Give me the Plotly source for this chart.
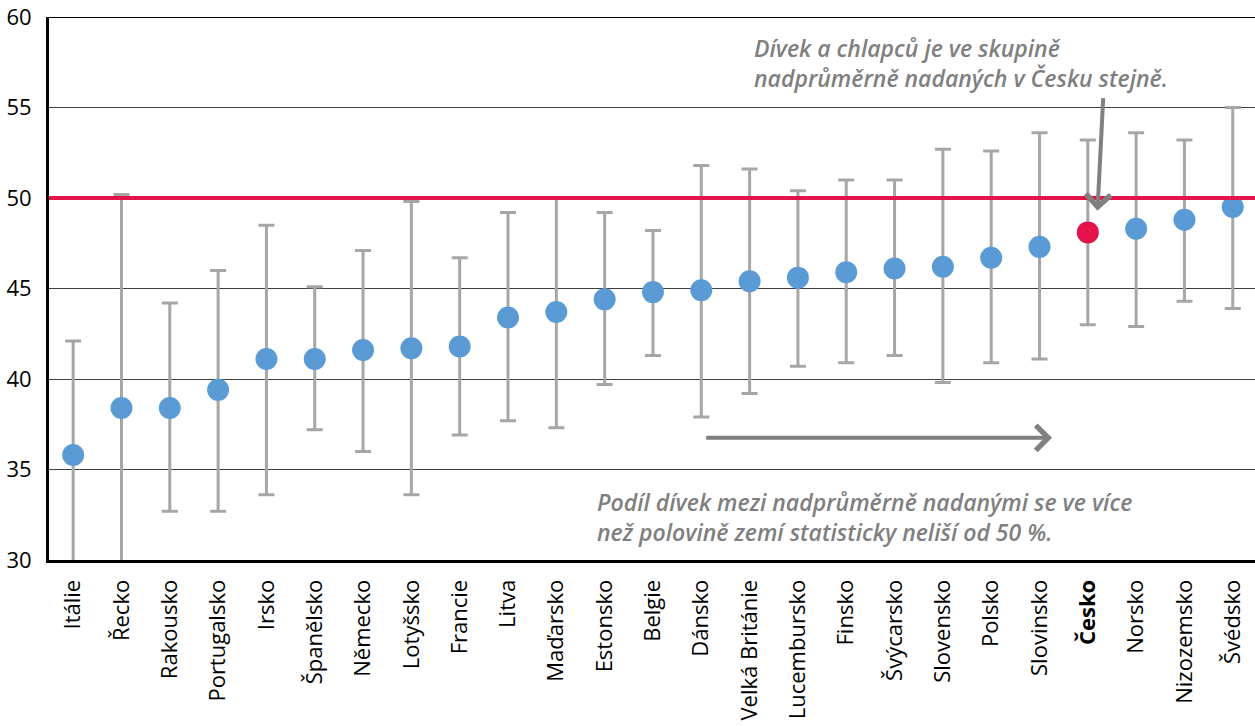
import plotly.graph_objects as go

# Share of girls among above-average gifted pupils, by country (%), with confidence intervals
countries = ["Itálie", "Řecko", "Rakousko", "Portugalsko", "Irsko", "Španělsko", "Německo",
             "Lotyšsko", "Francie", "Litva", "Maďarsko", "Estonsko", "Belgie", "Dánsko",
             "Velká Británie", "Lucembursko", "Finsko", "Švýcarsko", "Slovensko", "Polsko",
             "Slovinsko", "Česko", "Norsko", "Nizozemsko", "Švédsko"]
share = [35.8, 38.4, 38.4, 39.4, 41.1, 41.1, 41.6, 41.7, 41.8, 43.4, 43.7, 44.4, 44.8, 44.9,
         45.4, 45.6, 45.9, 46.1, 46.2, 46.7, 47.3, 48.1, 48.3, 48.8, 49.5]
ci_high = [42.1, 50.2, 44.2, 46.0, 48.5, 45.1, 47.1, 49.8, 46.7, 49.2, 50.0, 49.2, 48.2, 51.8,
           51.6, 50.4, 51.0, 51.0, 52.7, 52.6, 53.6, 53.2, 53.6, 53.2, 55.0]
ci_low = [29.5, 26.6, 32.7, 32.7, 33.6, 37.2, 36.0, 33.6, 36.9, 37.7, 37.3, 39.7, 41.3, 37.9,
          39.2, 40.7, 40.9, 41.3, 39.8, 40.9, 41.1, 43.0, 42.9, 44.3, 43.9]
y_ticks = [30, 35, 40, 45, 50, 55, 60]
parity = 50
highlight = "Česko"

BLUE = "#5B9BD5"
RED = "#E5124B"
GREY_TXT = "#7F7F7F"

x_idx = list(range(len(countries)))
colors = [RED if c == highlight else BLUE for c in countries]
tick_text = [f"<b>{c}</b>" if c == highlight else c for c in countries]

fig = go.Figure()

fig.add_trace(go.Scatter(
    x=x_idx, y=share, mode="markers",
    marker=dict(size=22, color=colors, line=dict(width=0)),
    error_y=dict(type="data", symmetric=False,
                 array=[h - v for h, v in zip(ci_high, share)],
                 arrayminus=[v - l for v, l in zip(share, ci_low)],
                 color="#A6A6A6", thickness=3, width=8),
    cliponaxis=True, showlegend=False,
))

# 50 % parity line
fig.add_shape(type="line", xref="paper", x0=0, x1=1, yref="y", y0=parity, y1=parity,
              line=dict(color=RED, width=4), layer="above")
# top frame line
fig.add_shape(type="line", xref="paper", x0=0, x1=1, yref="y", y0=60, y1=60,
              line=dict(color="#000000", width=2))

note_font = dict(family="Open Sans", size=23, color=GREY_TXT, style="italic", weight=600)

fig.add_annotation(
    x=14.04, y=59.3, xref="x", yref="y", xanchor="left", yanchor="top", align="left",
    text="Dívek a chlapců je ve skupině<br>nadprůměrně nadaných v Česku stejně.",
    showarrow=False, font=note_font,
)
fig.add_annotation(
    x=10.8, y=34.2, xref="x", yref="y", xanchor="left", yanchor="top", align="left",
    text="Podíl dívek mezi nadprůměrně nadanými se ve více<br>než polovině zemí statisticky neliší od 50 %.",
    showarrow=False, font=note_font,
)
# horizontal arrow
fig.add_annotation(
    x=20.26, y=36.75, ax=13.07, ay=36.75, xref="x", yref="y", axref="x", ayref="y",
    text="", showarrow=True, arrowhead=4, arrowsize=1.2, arrowwidth=4, arrowcolor="#808080",
)
# arrow pointing to Czechia
fig.add_annotation(
    x=21.2, y=49.3, ax=21.32, ay=55.6, xref="x", yref="y", axref="x", ayref="y",
    text="", showarrow=True, arrowhead=4, arrowsize=1.2, arrowwidth=4, arrowcolor="#808080",
)

fig.update_layout(
    width=1255, height=726,
    margin=dict(l=49, r=0, t=17, b=166),
    paper_bgcolor="white", plot_bgcolor="white",
    font=dict(family="Open Sans", color="#000000"),
    xaxis=dict(
        range=[-0.5, 24.46], tickmode="array", tickvals=x_idx, ticktext=tick_text,
        tickangle=-90, tickfont=dict(size=22, color="#000000"),
        showgrid=False, zeroline=False,
        showline=True, linecolor="#000000", linewidth=3,
        ticks="", ticklabelstandoff=8,
    ),
    yaxis=dict(
        range=[30, 60], tickmode="array", tickvals=y_ticks,
        tickfont=dict(size=22, color="#000000"),
        showgrid=True, gridcolor="#404040", gridwidth=1,
        zeroline=False, showline=True, linecolor="#000000", linewidth=3,
        ticks="", ticklabelstandoff=10,
    ),
)

fig.write_html("out.html")
